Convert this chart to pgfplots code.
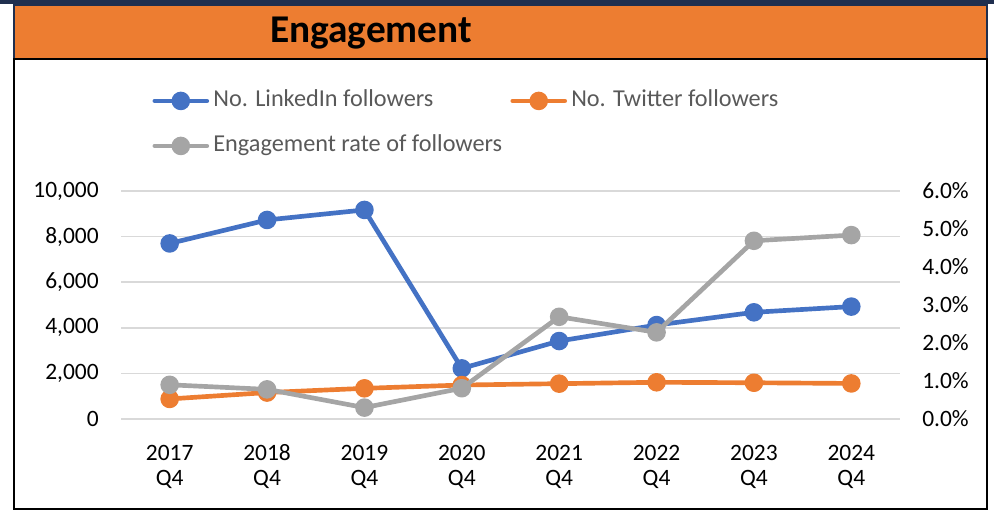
\documentclass[border=0pt]{standalone}
\usepackage{fontspec}
\setmainfont{Carlito}
\usepackage{pgfplots}
\usepackage{pgfplotstable}
\pgfplotsset{compat=1.18}

\definecolor{cBlue}{HTML}{4472C4}
\definecolor{cOrange}{HTML}{ED7D31}
\definecolor{cGray}{HTML}{A5A5A5}
\definecolor{cGrid}{HTML}{D9D9D9}
\definecolor{cNavy}{HTML}{1F2F4F}
\definecolor{cLeg}{HTML}{595959}

% x = quarter index (2017 Q4 ... 2024 Q4), rate in percent
\pgfplotstableread{
x linkedin twitter rate
0 7700 880  0.90
1 8730 1160 0.78
2 9170 1345 0.30
3 2220 1490 0.81
4 3420 1550 2.69
5 4120 1610 2.28
6 4680 1590 4.69
7 4930 1560 4.84
}\engdata

\pgfplotsset{
  base/.style={
    scale only axis, width=584.25pt, height=171pt,
    at={(0pt,0pt)}, anchor=south west,
    xmin=-0.5, xmax=7.5,
    axis line style={draw=none},
    major tick length=0pt,
    tick label style={font=\fontsize{17.6}{19}\selectfont, inner sep=0pt},
  },
  ser/.style={#1, line width=3.5pt, mark=*, mark size=5.2pt, line join=round, line cap=round},
}

\begin{document}
\begin{tikzpicture}
\useasboundingbox (-90.75pt,-69pt) rectangle (654.75pt,314.25pt);
\begin{scope}[x=0.75pt,y=-0.75pt,shift={(-90.75pt,314.25pt)}]
  \fill[cNavy] (0,0) rectangle (994,4);
  \filldraw[fill=cOrange, draw=cNavy, line width=1.5pt] (14,5) rectangle (987,59);
  \draw[black, line width=1.5pt] (14,59) rectangle (987,509);
  \node[anchor=base, inner sep=0pt, font=\fontsize{29.5}{34}\selectfont\bfseries] at (371,43) {Engagement};
\end{scope}

\begin{axis}[
  base,
  ymin=0, ymax=10000,
  xtick={0,...,7},
  xticklabels={{\strut 2017\\Q4},{\strut 2018\\Q4},{\strut 2019\\Q4},{\strut 2020\\Q4},{\strut 2021\\Q4},{\strut 2022\\Q4},{\strut 2023\\Q4},{\strut 2024\\Q4}},
  xticklabel style={align=center, anchor=north, yshift=-17.3pt},
  ytick={0,2000,...,10000},
  scaled y ticks=false,
  yticklabel style={xshift=-16.5pt, /pgf/number format/.cd, fixed, 1000 sep={,}, assume math mode=true},
  ymajorgrids, grid style={cGrid, line width=1.1pt},
  legend columns=2,
  legend cell align=left,
  legend style={at={(0.0401,1.443)}, anchor=north west, draw=none, fill=none, inner sep=0pt,
    font=\fontsize{18.2}{21}\selectfont, text=cLeg,
    nodes={inner sep=0pt, text height=12pt, text depth=4pt},
    row sep=17.75pt,
    /tikz/every odd column/.append style={column sep=3.15pt},
    /tikz/every even column/.append style={column sep=6.15pt}},
  legend image code/.code={\draw[mark repeat=2,mark phase=2,#1] plot coordinates {(0pt,0pt) (19.5pt,0pt) (39pt,0pt)};},
]
\addplot[ser=cBlue] table[x=x, y=linkedin]{\engdata};
\addlegendentry{No. LinkedIn followers}
\addplot[ser=cOrange] table[x=x, y=twitter]{\engdata};
\addlegendentry{No. Twitter followers}
\addlegendimage{ser=cGray}
\addlegendentry{Engagement rate of followers}
\end{axis}

\begin{axis}[
  base,
  ymin=0, ymax=6,
  axis x line=none,
  axis y line*=right,
  xtick=\empty,
  ytick={0,...,6},
  yticklabel={\pgfmathprintnumber[fixed,fixed zerofill,precision=1,assume math mode=true]{\tick}\%},
  yticklabel style={anchor=west, xshift=16.5pt},
]
\addplot[ser=cGray] table[x=x, y=rate]{\engdata};
\end{axis}
\end{tikzpicture}
\end{document}
